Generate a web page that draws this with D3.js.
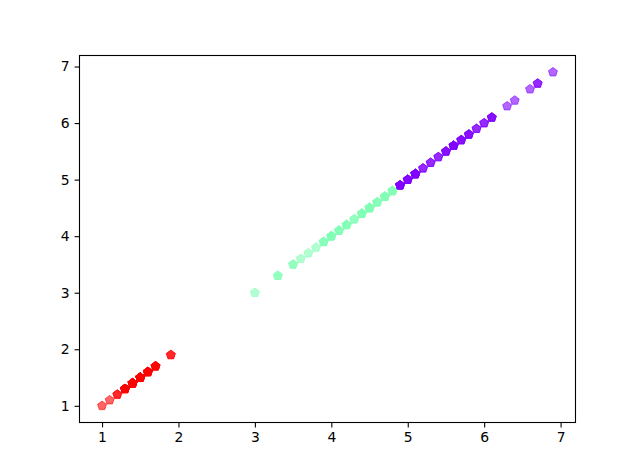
<!DOCTYPE html>
<html><head><meta charset="utf-8">
<script src="https://cdn.jsdelivr.net/npm/d3@7"></script>
<style>body{margin:0;background:#fff}</style>
</head><body>
<svg id="c" width="638" height="475"></svg>
<script>
// Petal length values (x = y) grouped by cluster, with counts of repeated values
const redValues    = [1.0, 1.1, 1.2, 1.3, 1.4, 1.5, 1.6, 1.7, 1.9];
const redCounts    = [1, 1, 2, 7, 13, 13, 7, 4, 2];
const greenValues  = [3.0, 3.3, 3.5, 3.6, 3.7, 3.8, 3.9, 4.0, 4.1, 4.2, 4.3, 4.4, 4.5, 4.6, 4.7, 4.8];
const greenCounts  = [1, 2, 2, 1, 1, 1, 3, 5, 3, 4, 2, 4, 8, 3, 5, 4];
const purpleValues = [4.9, 5.0, 5.1, 5.2, 5.3, 5.4, 5.5, 5.6, 5.7, 5.8, 5.9, 6.0, 6.1, 6.3, 6.4, 6.6, 6.7, 6.9];
const purpleCounts = [5, 4, 8, 2, 2, 2, 3, 6, 3, 3, 2, 2, 3, 1, 1, 1, 2, 1];
const xTicks = [1, 2, 3, 4, 5, 6, 7];
const yTicks = [1, 2, 3, 4, 5, 6, 7];

(function () {
const groups = [
  {values: redValues, counts: redCounts, color: "#ff0000"},
  {values: greenValues, counts: greenCounts, color: "#80ffb4"},
  {values: purpleValues, counts: purpleCounts, color: "#8000ff"}
];

const mL = 79.5, mR = 575.5, mT = 55.5, mB = 422.5;
const all = groups.flatMap(g => g.values);
const mn = d3.min(all), mx = d3.max(all), pad = (mx - mn) * 0.05;
const x = d3.scaleLinear().domain([mn - pad, mx + pad]).range([mL, mR]);
const y = d3.scaleLinear().domain([mn - pad, mx + pad]).range([mB, mT]);

const svg = d3.select("#c");
const font = "DejaVu Sans, sans-serif";

// pentagon marker
const r = 4.7;
const pent = d3.range(5).map(k => {
  const a = -Math.PI / 2 + k * 2 * Math.PI / 5;
  return [r * Math.cos(a), r * Math.sin(a)];
});
const pentPath = "M" + pent.map(p => p.join(",")).join("L") + "Z";

const pts = [];
groups.forEach(g => g.values.forEach((v, i) => {
  for (let c = 0; c < g.counts[i]; c++) pts.push({v, color: g.color});
}));

svg.append("g").selectAll("path").data(pts).join("path")
  .attr("d", pentPath)
  .attr("transform", d => `translate(${x(d.v)},${y(d.v)})`)
  .attr("fill", d => d.color)
  .attr("fill-opacity", 0.6)
  .attr("stroke", d => d.color)
  .attr("stroke-opacity", 0.6)
  .attr("stroke-width", 1);

const xa = svg.append("g").attr("transform", `translate(0,${mB})`)
  .call(d3.axisBottom(x).tickValues(xTicks).tickFormat(d3.format("d")).tickSize(4.9).tickPadding(4.9));
const ya = svg.append("g").attr("transform", `translate(${mL},0)`)
  .call(d3.axisLeft(y).tickValues(yTicks).tickFormat(d3.format("d")).tickSize(4.9).tickPadding(4.9));
[xa, ya].forEach(a => {
  a.select(".domain").remove();
  a.selectAll("line").attr("stroke", "#000").attr("stroke-width", 1.1);
  a.selectAll("text").attr("font-family", font).attr("font-size", "13.9px").attr("fill", "#000");
});

svg.append("rect").attr("x", mL).attr("y", mT).attr("width", mR - mL).attr("height", mB - mT)
  .attr("fill", "none").attr("stroke", "#000").attr("stroke-width", 1.1);
})();
</script>
</body></html>
